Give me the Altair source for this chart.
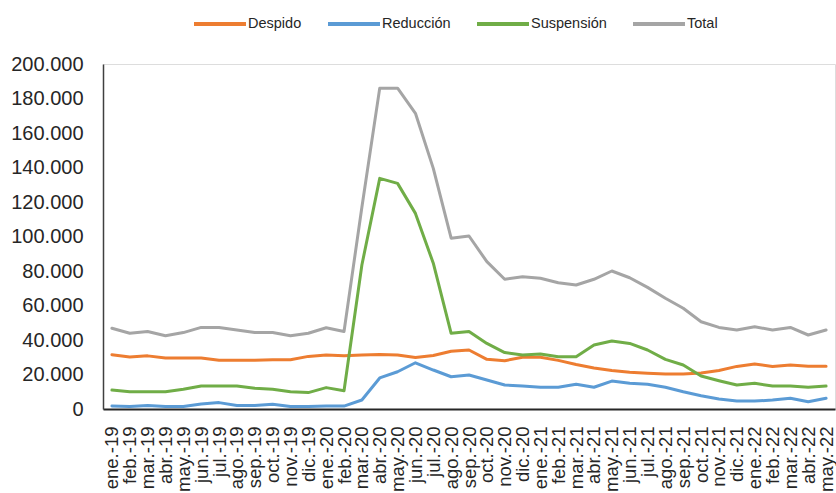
import altair as alt
import pandas as pd

months = ["ene.-19", "feb.-19", "mar.-19", "abr.-19", "may.-19", "jun.-19", "jul.-19", "ago.-19",
          "sep.-19", "oct.-19", "nov.-19", "dic.-19", "ene.-20", "feb.-20", "mar.-20", "abr.-20",
          "may.-20", "jun.-20", "jul.-20", "ago.-20", "sep.-20", "oct.-20", "nov.-20", "dic.-20",
          "ene.-21", "feb.-21", "mar.-21", "abr.-21", "may.-21", "jun.-21", "jul.-21", "ago.-21",
          "sep.-21", "oct.-21", "nov.-21", "dic.-21", "ene.-22", "feb.-22", "mar.-22", "abr.-22",
          "may.-22"]

despido = [31500, 30200, 30800, 29500, 29500, 29500, 28200, 28200, 28200, 28600, 28600, 30500,
           31300, 30800, 31300, 31600, 31300, 29800, 31000, 33500, 34200, 28800, 28000, 30000,
           30000, 28200, 25800, 23800, 22300, 21300, 20700, 20300, 20300, 20900, 22300, 24700,
           26100, 24700, 25500, 24800, 24800]

reduccion = [1700, 1400, 2000, 1400, 1400, 2900, 3700, 2000, 2000, 2700, 1400, 1400,
             1700, 1700, 5200, 18000, 21600, 26800, 22600, 18700, 19700, 16800, 13900, 13300,
             12600, 12600, 14300, 12600, 16200, 14900, 14300, 12600, 10000, 7700, 5800, 4600,
             4600, 5200, 6200, 4200, 6200]

suspension = [11000, 10000, 10000, 10000, 11400, 13300, 13300, 13300, 12000, 11400, 10000, 9500,
              12400, 10600, 83500, 133700, 130800, 113400, 84500, 43900, 44900, 38000, 32700, 31300,
              31900, 30300, 30300, 37100, 39400, 38000, 34200, 28800, 25500, 19100, 16400, 13900,
              14900, 13300, 13300, 12600, 13300]

total = [46800, 43900, 44900, 42500, 44300, 47300, 47300, 45800, 44300, 44300, 42500, 43900,
         47100, 44900, 117000, 186000, 186000, 171400, 139500, 99000, 100300, 85400, 75200, 76700,
         75800, 73200, 71900, 75200, 80000, 76100, 70500, 64200, 58400, 50600, 47300, 45800,
         47700, 45800, 47300, 42900, 45800]

series_names = ["Despido", "Reducción", "Suspensión", "Total"]
series_colors = ["#ED7D31", "#5B9BD5", "#70AD47", "#A5A5A5"]
y_ticks = list(range(0, 200001, 20000))

rows = []
for name, vals in zip(series_names, [despido, reduccion, suspension, total]):
    for i, (m, v) in enumerate(zip(months, vals)):
        rows.append({"mes": m, "serie": name, "valor": v, "orden": series_names.index(name)})
df = pd.DataFrame(rows)

FONT = "Liberation Sans"

chart = alt.Chart(df).mark_line(strokeWidth=3, strokeJoin="round", strokeCap="round").encode(
    x=alt.X("mes:N", sort=months, title=None,
            scale=alt.Scale(type="point", padding=0.5),
            axis=alt.Axis(labelAngle=-90, ticks=False, labelPadding=17, labelOverlap=False,
                          labelFontSize=18.5, labelFont=FONT, labelColor="#262626",
                          domainColor="#262626", domainWidth=2, grid=False)),
    y=alt.Y("valor:Q", title=None,
            scale=alt.Scale(domain=[0, 200000], nice=False),
            axis=alt.Axis(values=y_ticks, ticks=False, labelPadding=20, grid=False,
                          labelFontSize=20, labelFont=FONT, labelColor="#262626",
                          domainColor="#404040", domainWidth=1.5,
                          labelExpr="replace(format(datum.value, ','), ',', '.')")),
    color=alt.Color("serie:N", title=None,
                    scale=alt.Scale(domain=series_names, range=series_colors),
                    legend=alt.Legend(orient="none", direction="horizontal", legendX=89, legendY=-68,
                                      symbolType="stroke", symbolSize=2704, symbolStrokeWidth=4,
                                      labelFont=FONT, labelFontSize=14.5, labelColor="#262626",
                                      labelOffset=0, columnPadding=18, padding=0)),
    order=alt.Order("orden:Q"),
).properties(
    width=732, height=345,
    autosize=alt.AutoSizeParams(type="none"),
    padding={"left": 103, "top": 64, "right": 1, "bottom": 84},
).configure_view(stroke=None).configure(background="white")

chart.save("out.html", embed_options={"renderer": "svg", "actions": False})
